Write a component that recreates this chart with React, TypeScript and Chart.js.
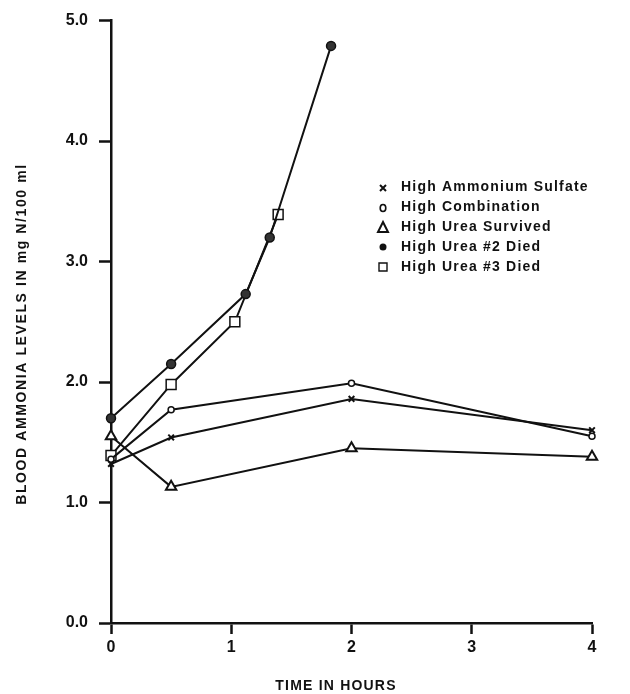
import React, { useEffect, useRef } from "react";
import { Chart, registerables } from "chart.js";

Chart.register(...registerables);

const seriesNames = [
  "High Ammonium Sulfate",
  "High Combination",
  "High Urea Survived",
  "High Urea #2 Died",
  "High Urea #3 Died",
];

const sulfateTimes = [0, 0.5, 2, 4];
const sulfateValues = [1.32, 1.54, 1.86, 1.6];

const combinationTimes = [0, 0.5, 2, 4];
const combinationValues = [1.36, 1.77, 1.99, 1.55];

const survivedTimes = [0, 0.5, 2, 4];
const survivedValues = [1.55, 1.13, 1.45, 1.38];

const urea2Times = [0, 0.5, 1.12, 1.32, 1.83];
const urea2Values = [1.7, 2.15, 2.73, 3.2, 4.79];

const urea3Times = [0, 0.5, 1.03, 1.39];
const urea3Values = [1.39, 1.98, 2.5, 3.39];

const xTicks = [0, 1, 2, 3, 4];
const yTicks = [0, 1, 2, 3, 4, 5];

const zip = (xs: number[], ys: number[]) => xs.map((x, i) => ({ x, y: ys[i] }));

const FONT = "'Liberation Sans', Arial, Helvetica, sans-serif";

const overlayPlugin = {
  id: "overlay",
  afterDraw(chart: any) {
    const ctx = chart.ctx as CanvasRenderingContext2D;
    ctx.save();
    ctx.fillStyle = "#111";
    ctx.strokeStyle = "#111";
    // axis titles
    ctx.textAlign = "center";
    ctx.textBaseline = "middle";
    ctx.font = `bold 14px ${FONT}`;
    (ctx as any).letterSpacing = "1.2px";
    ctx.fillText("TIME IN HOURS", 336, 686);
    ctx.save();
    ctx.translate(22, 334);
    ctx.rotate(-Math.PI / 2);
    ctx.font = `bold 14px ${FONT}`;
    (ctx as any).letterSpacing = "1.6px";
    ctx.fillText("BLOOD AMMONIA LEVELS IN mg N/100 ml", 0, 0);
    ctx.restore();

    // legend
    const mx = 383;
    const tx = 401;
    const rows = [187, 207, 227, 247, 267];
    ctx.font = `bold 14px ${FONT}`;
    (ctx as any).letterSpacing = "1.2px";
    ctx.textAlign = "left";
    ctx.textBaseline = "middle";
    seriesNames.forEach((name, i) => {
      const y = rows[i];
      ctx.fillText(name, tx, y);
      ctx.lineWidth = 2;
      ctx.beginPath();
      if (i === 0) {
        ctx.moveTo(mx - 3, y - 2);
        ctx.lineTo(mx + 3, y + 4);
        ctx.moveTo(mx + 3, y - 2);
        ctx.lineTo(mx - 3, y + 4);
        ctx.stroke();
      } else if (i === 1) {
        ctx.lineWidth = 1.6;
        ctx.ellipse(mx, y + 1, 2.8, 3.5, 0, 0, Math.PI * 2);
        ctx.stroke();
      } else if (i === 2) {
        ctx.moveTo(mx, y - 5);
        ctx.lineTo(mx + 5, y + 5);
        ctx.lineTo(mx - 5, y + 5);
        ctx.closePath();
        ctx.stroke();
      } else if (i === 3) {
        ctx.arc(mx, y, 3.5, 0, Math.PI * 2);
        ctx.fill();
      } else {
        ctx.lineWidth = 1.4;
        ctx.rect(mx - 4, y - 4, 8, 8);
        ctx.stroke();
      }
    });
    ctx.restore();
  },
};

export default function App() {
  const ref = useRef<HTMLCanvasElement | null>(null);

  useEffect(() => {
    if (!ref.current) return;
    const line = "#111";
    const chart = new Chart(ref.current, {
      type: "line",
      data: {
        datasets: [
          {
            label: seriesNames[0],
            data: zip(sulfateTimes, sulfateValues),
            borderColor: line,
            borderWidth: 2,
            pointStyle: "crossRot",
            pointRadius: 4,
            pointBorderWidth: 2,
            pointBorderColor: line,
            pointBackgroundColor: "#fff",
          },
          {
            label: seriesNames[1],
            data: zip(combinationTimes, combinationValues),
            borderColor: line,
            borderWidth: 2,
            pointStyle: "circle",
            pointRadius: 3,
            pointBorderWidth: 1.5,
            pointBorderColor: line,
            pointBackgroundColor: "#fff",
          },
          {
            label: seriesNames[2],
            data: zip(survivedTimes, survivedValues),
            borderColor: line,
            borderWidth: 2,
            pointStyle: "triangle",
            pointRadius: 6,
            pointBorderWidth: 2,
            pointBorderColor: line,
            pointBackgroundColor: "#fff",
          },
          {
            label: seriesNames[3],
            data: zip(urea2Times, urea2Values),
            borderColor: line,
            borderWidth: 2,
            pointStyle: "circle",
            pointRadius: 4.5,
            pointBorderWidth: 1.5,
            pointBorderColor: line,
            pointBackgroundColor: "#333",
          },
          {
            label: seriesNames[4],
            data: zip(urea3Times, urea3Values),
            borderColor: line,
            borderWidth: 2,
            pointStyle: "rect",
            pointRadius: 7,
            pointBorderWidth: 1.5,
            pointBorderColor: line,
            pointBackgroundColor: "#fff",
          },
        ],
      },
      options: {
        animation: false,
        responsive: false,
        maintainAspectRatio: false,
        clip: false as any,
        layout: { padding: { top: 17, right: 38, left: 0, bottom: 0 } },
        plugins: {
          legend: { display: false },
          tooltip: { enabled: false },
          title: { display: false },
        },
        scales: {
          x: {
            type: "linear",
            min: 0,
            max: 4,
            afterFit: (s: any) => {
              s.height = 694 - 623;
            },
            afterBuildTicks: (s: any) => {
              s.ticks = xTicks.map((v) => ({ value: v }));
            },
            ticks: {
              color: "#111",
              font: { family: FONT, size: 16, weight: "bold" },
              padding: 4,
              callback: (v: any) => String(v),
            },
            grid: {
              drawOnChartArea: false,
              drawTicks: true,
              tickLength: 11,
              tickWidth: 2.5,
              tickColor: "#111",
            },
            border: { display: true, color: "#111", width: 2.5 },
          },
          y: {
            type: "linear",
            min: 0,
            max: 5,
            afterFit: (s: any) => {
              s.width = 111;
            },
            afterBuildTicks: (s: any) => {
              s.ticks = yTicks.map((v) => ({ value: v }));
            },
            ticks: {
              color: "#111",
              font: { family: FONT, size: 16, weight: "bold" },
              padding: 11,
              callback: (v: any) => Number(v).toFixed(1),
            },
            grid: {
              drawOnChartArea: false,
              drawTicks: true,
              tickLength: 12,
              tickWidth: 2.5,
              tickColor: "#111",
            },
            border: { display: true, color: "#111", width: 2.5 },
          },
        },
      },
      plugins: [overlayPlugin],
    });
    return () => chart.destroy();
  }, []);

  return (
    <div style={{ position: "fixed", left: 0, top: 0, width: 630, height: 694, background: "#fff" }}>
      <canvas ref={ref} width={630} height={694} style={{ width: 630, height: 694, display: "block" }} />
    </div>
  );
}
